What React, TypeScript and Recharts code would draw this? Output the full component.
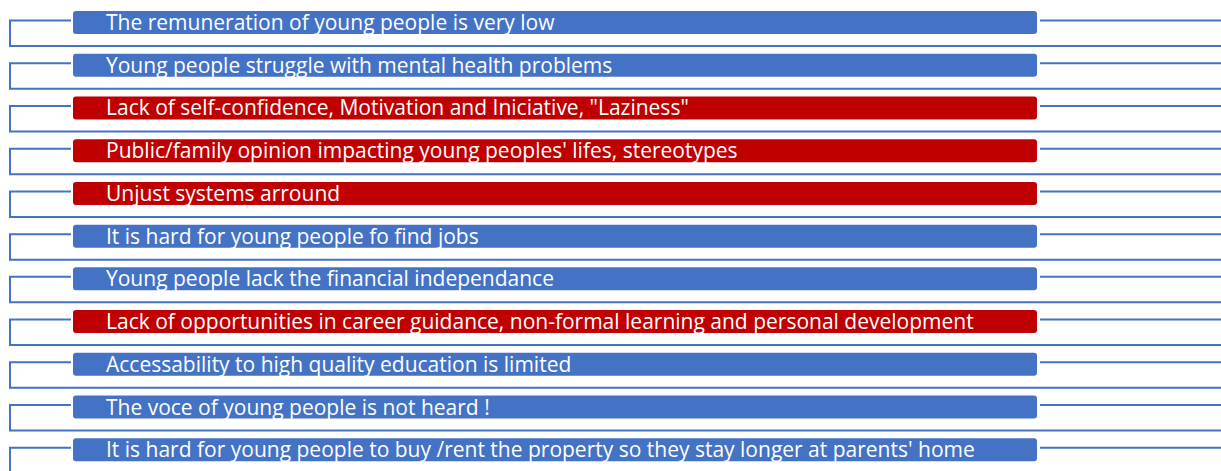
import { BarChart, Bar, XAxis, YAxis, Cell, LabelList } from "recharts";

const CHALLENGES = [
  "The remuneration of young people is very low",
  "Young people struggle with mental health problems",
  "Lack of self-confidence, Motivation and Iniciative, \"Laziness\"",
  "Public/family opinion impacting young peoples' lifes, stereotypes",
  "Unjust systems arround",
  "It is hard for young people fo find jobs",
  "Young people lack the financial independance",
  "Lack of opportunities in career guidance, non-formal learning and personal development",
  "Accessability to high quality education is limited",
  "The voce of young people is not heard !",
  "It is hard for young people to buy /rent the property so they stay longer at parents' home",
];

// every item is drawn as a full-width block
const VALUES = [1, 1, 1, 1, 1, 1, 1, 1, 1, 1, 1];

// red = highlighted items
const GROUPS = ["blue", "blue", "red", "red", "red", "blue", "blue", "red", "blue", "blue", "blue"];

const COLORS: Record<string, string> = { blue: "#4472C4", red: "#C00000" };
const LINE = "#4472C4";
const W = 1221;
const H = 471;

const data = CHALLENGES.map((label, i) => ({ label, value: VALUES[i], group: GROUPS[i] }));

function BlockShape(props: any) {
  const { x, y, width, height, fill } = props;
  const cy = y + height / 2;
  const top = cy - 2;
  const bottom = cy + 23.5;
  const left = x - 63;
  const r = 3;
  return (
    <g>
      <polyline
        points={`${x - 2},${top} ${left},${top} ${left},${bottom} ${W},${bottom}`}
        fill="none"
        stroke={LINE}
        strokeWidth={2}
      />
      <line x1={x + width + 3} y1={top} x2={W} y2={top} stroke={LINE} strokeWidth={2} />
      <rect x={x} y={y} width={width} height={height} rx={r} ry={r} fill={fill} />
    </g>
  );
}

export default function App() {
  return (
    <div style={{ position: "absolute", left: 0, top: 0, background: "#fff" }}>
      <BarChart
        width={W}
        height={H}
        data={data}
        layout="vertical"
        margin={{ top: 1, right: 184, bottom: 0, left: 73 }}
        barCategoryGap={0}
      >
        <XAxis type="number" domain={[0, 1]} hide />
        <YAxis type="category" dataKey="label" hide width={0} />
        <Bar dataKey="value" barSize={23} shape={<BlockShape />} isAnimationActive={false}>
          {data.map((d, i) => (
            <Cell key={i} fill={COLORS[d.group]} />
          ))}
          <LabelList
            dataKey="label"
            position="insideLeft"
            offset={33}
            fill="#fff"
            style={{ fontFamily: "'Open Sans', sans-serif", fontSize: 21 }}
          />
        </Bar>
      </BarChart>
    </div>
  );
}
